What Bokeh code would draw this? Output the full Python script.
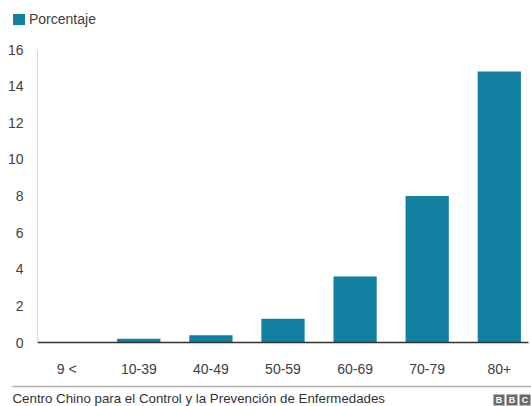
from bokeh.plotting import figure
from bokeh.models import FactorRange, Range1d, Legend, LegendItem, ColumnDataSource, FixedTicker
from bokeh.layouts import column
from bokeh.embed import file_html
from bokeh.resources import INLINE
from bokeh.core.properties import value

# ---- data ----
categories = ["9 <", "10-39", "40-49", "50-59", "60-69", "70-79", "80+"]
porcentaje = [0.0, 0.2, 0.4, 1.3, 3.6, 8.0, 14.8]
y_ticks = [0, 2, 4, 6, 8, 10, 12, 14, 16]
series_name = "Porcentaje"
source_text = "Centro Chino para el Control y la Prevención de Enfermedades"
logo_letters = ["B", "B", "C"]

FONT = "Liberation Sans"
BAR = "#1380A1"
TXT = "#404040"

W = 531
H_HEAD = 40
H_MAIN = 342
H_FOOT = 24


def bare(fig):
    fig.frame_align = False
    fig.xgrid.grid_line_color = None
    fig.ygrid.grid_line_color = None
    fig.outline_line_color = None
    return fig


# ---- header with legend ----
head = bare(figure(
    width=W, height=H_HEAD, x_range=Range1d(0, 1), y_range=Range1d(0, 1),
    output_backend="svg", toolbar_location=None,
    x_axis_location=None, y_axis_location=None, min_border=0,
))
# legend swatch renderer: a zero-height bar kept outside the visible header range
swatch = head.vbar(x=[-5], top=[0], width=0.6, fill_color=BAR, line_color=None)
legend = Legend(
    items=[LegendItem(label=series_name, renderers=[swatch])],
    location="top_left", orientation="horizontal",
    glyph_width=15, glyph_height=14, label_standoff=3, label_height=14,
    padding=0, margin=11, spacing=0,
    border_line_color=None, background_fill_alpha=0,
    label_text_font=FONT, label_text_font_size="14px", label_text_color=TXT,
)
head.add_layout(legend)

# ---- main chart ----
src = ColumnDataSource(dict(cat=categories, val=porcentaje))
p = figure(
    width=W, height=H_MAIN,
    x_range=FactorRange(factors=categories, range_padding=-0.095, range_padding_units="absolute"),
    y_range=Range1d(0, 16),
    output_backend="svg", toolbar_location=None,
    min_border_left=37, min_border_right=3, min_border_top=9, min_border_bottom=40,
)
p.frame_align = False
p.vbar(x="cat", top="val", width=0.6, source=src, fill_color=BAR, line_color=None)

p.yaxis.ticker = FixedTicker(ticks=y_ticks)
p.yaxis.axis_line_color = "#d9d9d9"
p.yaxis.major_tick_line_color = None
p.yaxis.minor_tick_line_color = None
p.yaxis.major_label_standoff = 8
p.yaxis.major_label_text_font = FONT
p.yaxis.major_label_text_font_size = "14px"
p.yaxis.major_label_text_color = TXT

p.xaxis.axis_line_color = "#333333"
p.xaxis.axis_line_width = 1.5
p.xaxis.major_tick_line_color = None
p.xaxis.minor_tick_line_color = None
p.xaxis.major_label_standoff = 12
p.xaxis.major_label_text_font = FONT
p.xaxis.major_label_text_font_size = "14px"
p.xaxis.major_label_text_color = TXT

p.xgrid.grid_line_color = None
p.ygrid.grid_line_color = None
p.outline_line_color = None

# ---- footer ----
f = bare(figure(
    width=W, height=H_FOOT, x_range=Range1d(0, W), y_range=Range1d(H_FOOT, 0),
    output_backend="svg", toolbar_location=None,
    x_axis_location=None, y_axis_location=None, min_border=0,
))
f.segment(x0=[12], y0=[4], x1=[W], y1=[4], line_color="#b0b0b0", line_width=1.5)
f.text(x=[12], y=[16], text=[source_text], text_font=value(FONT), text_font_size="13.3px",
       text_color="#333333", text_baseline="middle", text_align="left")
logo_x = [498.5, 511.5, 524.5]
f.rect(x=logo_x, y=[17.5] * 3, width=11, height=11, fill_color="#6a6a6a", line_color=None)
f.text(x=logo_x, y=[17.5] * 3, text=logo_letters, text_font=value(FONT), text_font_size="9px",
       text_font_style="bold", text_color="white", text_baseline="middle", text_align="center")

layout = column(head, p, f, spacing=0)
open("out.html", "w").write(file_html(layout, INLINE))
